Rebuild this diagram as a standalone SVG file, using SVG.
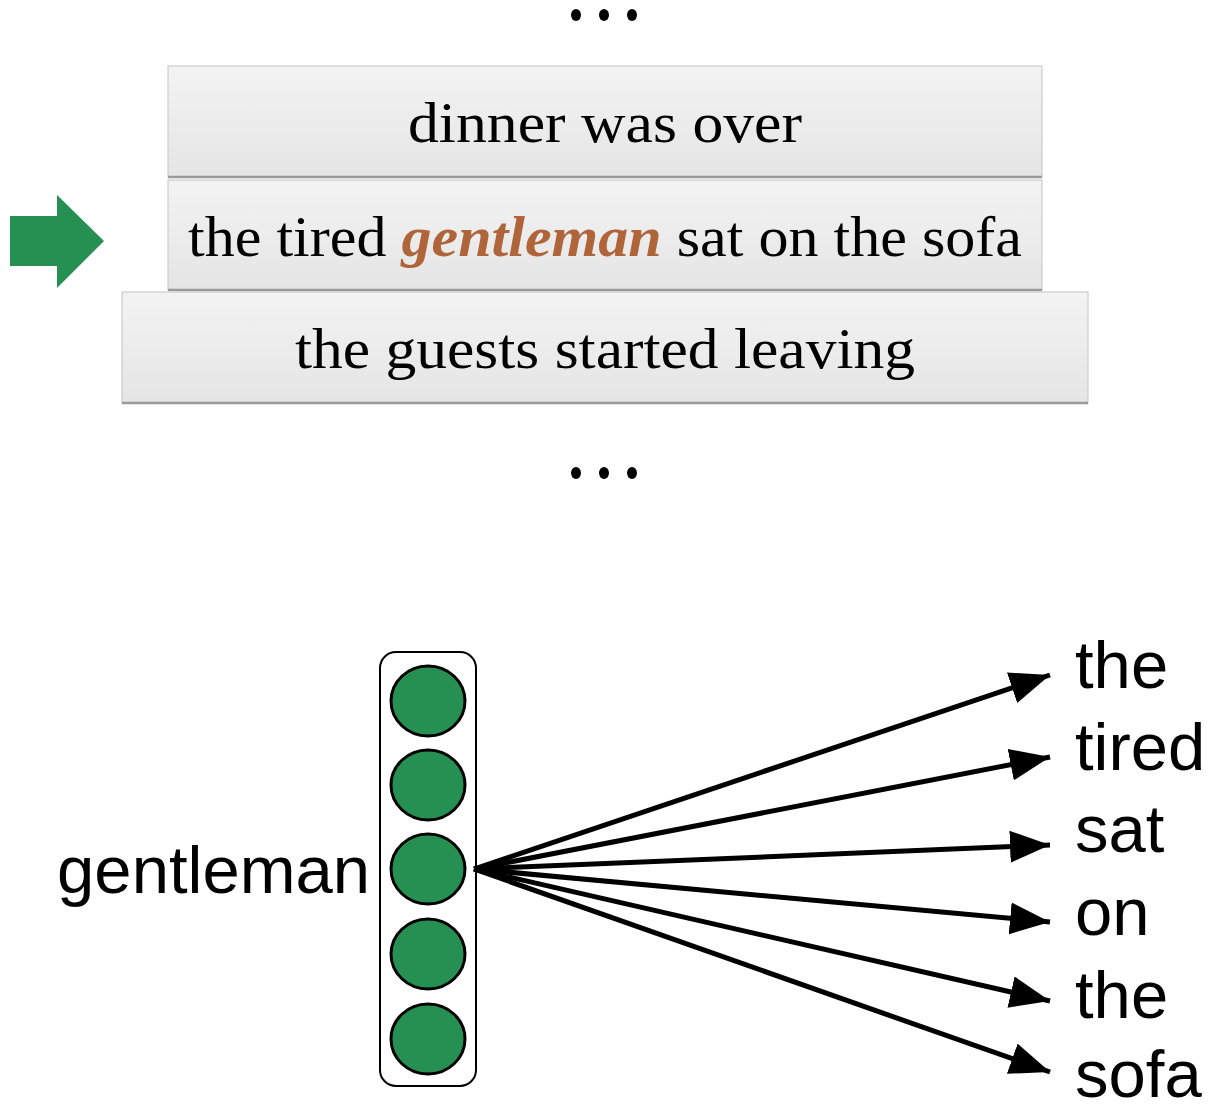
<svg xmlns="http://www.w3.org/2000/svg" width="1210" height="1110" viewBox="0 0 1210 1110">
<defs>
<style>
.box{stroke:#c4c4c4;stroke-width:1}
.shade{stroke:#9a9a9a;stroke-width:2.5}
.serif{font-family:"Liberation Serif","DejaVu Serif",serif;font-size:56px;fill:#000;text-anchor:middle}
.sans{font-family:"Liberation Sans",Arial,sans-serif;font-size:67px;fill:#000}
.dot{fill:#000}
.unit{fill:#268f52;stroke:#000;stroke-width:3}
.conn{stroke:#000;stroke-width:5;fill:none;marker-end:url(#ah)}
</style>
<linearGradient id="bg" x1="0" y1="0" x2="0" y2="1">
<stop offset="0" stop-color="#f3f3f3"/>
<stop offset="1" stop-color="#e5e5e5"/>
</linearGradient>
<marker id="ah" markerUnits="userSpaceOnUse" markerWidth="44" markerHeight="34" refX="40" refY="16" orient="auto">
<path d="M0,0 L40,16 L0,32 Z" fill="#000"/>
</marker>
</defs>
<g id="dots-top"><ellipse class="dot" cx="576" cy="15" rx="5" ry="6"/><ellipse class="dot" cx="604" cy="15" rx="5" ry="6"/><ellipse class="dot" cx="632" cy="15" rx="5" ry="6"/></g>
<g id="box-dinner"><rect class="box" x="168" y="66" width="874" height="111" fill="url(#bg)"/><line class="shade" x1="168" y1="177" x2="1042" y2="177"/><text class="serif" x="605" y="142" textLength="394" lengthAdjust="spacingAndGlyphs">dinner was over</text></g>
<g id="box-gentleman"><rect class="box" x="168" y="180" width="874" height="110" fill="url(#bg)"/><line class="shade" x1="168" y1="290" x2="1042" y2="290"/><text class="serif" x="605" y="256" textLength="834" lengthAdjust="spacingAndGlyphs">the tired <tspan fill="#b0643a" font-style="italic" font-weight="bold">gentleman</tspan> sat on the sofa</text></g>
<g id="box-guests"><rect class="box" x="122" y="292" width="966" height="111" fill="url(#bg)"/><line class="shade" x1="122" y1="403" x2="1088" y2="403"/><text class="serif" x="605" y="368" textLength="620" lengthAdjust="spacingAndGlyphs">the guests started leaving</text></g>
<g id="green-arrow"><path d="M10,216 H57 V195 L104,241 L57,288 V266 H10 Z" fill="#268f52"/></g>
<g id="dots-bottom"><ellipse class="dot" cx="576" cy="473" rx="5" ry="6"/><ellipse class="dot" cx="604" cy="473" rx="5" ry="6"/><ellipse class="dot" cx="632" cy="473" rx="5" ry="6"/></g>
<g id="vector">
<rect x="380" y="652" width="96" height="434" rx="16" fill="#fff" stroke="#000" stroke-width="2"/>
<ellipse class="unit" cx="428" cy="701" rx="37" ry="35"/>
<ellipse class="unit" cx="428" cy="785" rx="37" ry="35"/>
<ellipse class="unit" cx="428" cy="869" rx="37" ry="35"/>
<ellipse class="unit" cx="428" cy="954" rx="37" ry="35"/>
<ellipse class="unit" cx="428" cy="1039" rx="37" ry="35"/>
</g>
<g id="label-gentleman"><text class="sans" x="370" y="893" text-anchor="end">gentleman</text></g>
<g id="connectors">
<line class="conn" x1="474" y1="869" x2="1050" y2="675"/>
<line class="conn" x1="474" y1="869" x2="1050" y2="757"/>
<line class="conn" x1="474" y1="869" x2="1050" y2="845"/>
<line class="conn" x1="474" y1="869" x2="1050" y2="922"/>
<line class="conn" x1="474" y1="869" x2="1050" y2="1001"/>
<line class="conn" x1="474" y1="869" x2="1050" y2="1072"/>
</g>
<g id="targets">
<text class="sans" x="1075" y="688">the</text>
<text class="sans" x="1075" y="770">tired</text>
<text class="sans" x="1075" y="852">sat</text>
<text class="sans" x="1075" y="935">on</text>
<text class="sans" x="1075" y="1018">the</text>
<text class="sans" x="1075" y="1097">sofa</text>
</g>
</svg>
